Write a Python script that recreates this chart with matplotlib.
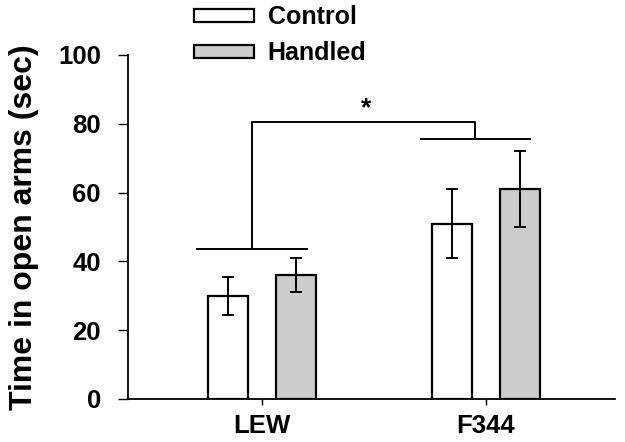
import numpy as np
import matplotlib.pyplot as plt
from matplotlib.patches import Patch

strains = ["LEW", "F344"]
groups = ["Control", "Handled"]
control_mean = [30, 51]
control_err = [5.5, 10]
handled_mean = [36, 61]
handled_err = [5, 11]

# significance bracket levels (sec)
strain_line_y = [43.7, 75.5]
top_line_y = 80.5
star_y = 84.5

plt.rcParams["font.family"] = ["Liberation Sans", "DejaVu Sans"]
plt.rcParams["font.weight"] = "bold"

fig = plt.figure(figsize=(6.25, 4.42), dpi=100)
ax = fig.add_axes([128 / 625, 43 / 442, 487 / 625, 344 / 442])

x = np.arange(len(strains))
off = 0.152
w = 0.18
bar_kw = dict(width=w, edgecolor="black", linewidth=1.6, zorder=2)
err_kw = dict(ecolor="black", elinewidth=1.4, capsize=4.5, capthick=1.4)

ax.bar(x - off, control_mean, color="white", yerr=control_err,
       error_kw=err_kw, **bar_kw)
ax.bar(x + off, handled_mean, color="#cccccc", yerr=handled_err,
       error_kw=err_kw, **bar_kw)

# brackets over each strain and the strain comparison
half = [(-0.29, 0.2), (-0.29, 0.196)]
mids = []
for i, y in enumerate(strain_line_y):
    lo, hi = x[i] + half[i][0], x[i] + half[i][1]
    ax.plot([lo, hi], [y, y], color="black", lw=1.4, clip_on=False)
    mids.append((lo + hi) / 2)
ax.plot([mids[0], mids[0], mids[1], mids[1]],
        [strain_line_y[0], top_line_y, top_line_y, strain_line_y[1]],
        color="black", lw=1.4, clip_on=False)
ax.text(sum(mids) / 2 + 0.01, star_y, "*", ha="center", va="center",
        fontsize=19, fontweight="bold")

ax.set_xlim(-0.598, 1.576)
ax.set_ylim(0, 100)
ax.set_yticks([0, 20, 40, 60, 80, 100])
ax.set_xticks(x)
ax.set_xticklabels(strains)
ax.tick_params(axis="both", labelsize=18.5, width=1, colors="black")
ax.tick_params(axis="y", length=7, pad=12.5)
ax.tick_params(axis="x", length=4, pad=7)
for lab in ax.get_xticklabels() + ax.get_yticklabels():
    lab.set_fontweight("bold")

for s in ["top", "right"]:
    ax.spines[s].set_visible(False)
for s in ["left", "bottom"]:
    ax.spines[s].set_linewidth(1.3)

ax.set_ylabel("Time in open arms (sec)", fontsize=23, fontweight="bold",
              labelpad=14)

handles = [Patch(facecolor="white", edgecolor="black", linewidth=1.6),
           Patch(facecolor="#cccccc", edgecolor="black", linewidth=1.6)]
fig.legend(handles, groups, loc="upper left",
           bbox_to_anchor=(194 / 625, 1 - 5 / 442), frameon=False,
           handlelength=2.4, handleheight=0.42,
           handletextpad=0.55, labelspacing=0.5, borderpad=0,
           borderaxespad=0, prop={"weight": "bold", "size": 18})

fig.savefig("out.png", dpi=100)
